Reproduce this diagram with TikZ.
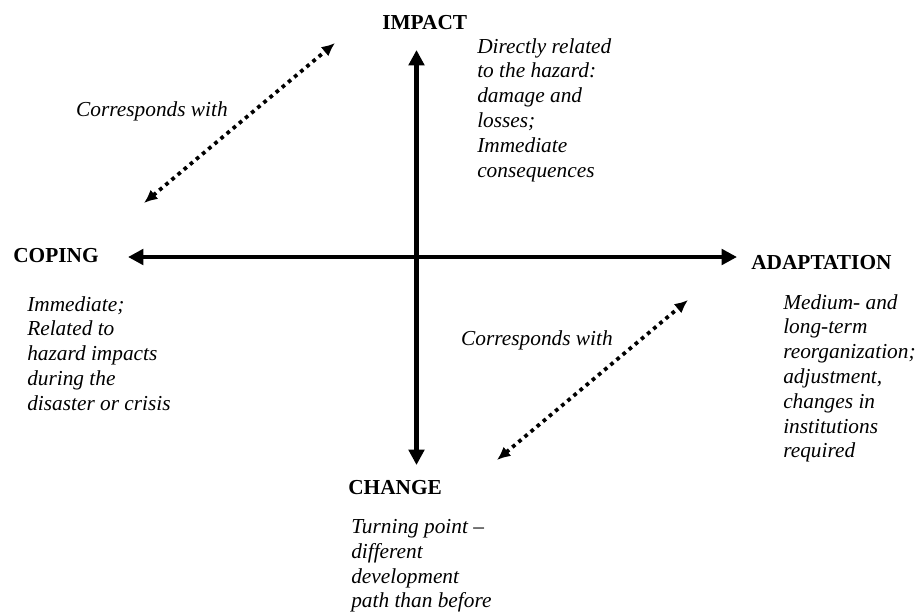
\documentclass[tikz,border=0pt]{standalone}
\usepackage{fontspec}
\setmainfont{Liberation Serif}
\usetikzlibrary{arrows.meta}
\begin{document}
\begin{tikzpicture}[x=0.75pt,y=-0.75pt,
  head/.style={font=\fontsize{16}{18.6}\selectfont\bfseries, inner sep=0pt},
  desc/.style={font=\fontsize{16}{18.6}\selectfont\itshape, inner sep=0pt, align=left, anchor=north west},
  corr/.style={font=\fontsize{16}{18.6}\selectfont\itshape, inner sep=0pt},
  axis/.style={line width=3.6pt, {Triangle[length=11.5pt,width=11.5pt]}-{Triangle[length=11.5pt,width=11.5pt]}},
  dotarrow/.style={line width=2.8pt, dash pattern=on 2.8pt off 3.2pt, {Latex[length=10pt,width=9pt]}-{Latex[length=10pt,width=9pt]}}
]
\useasboundingbox (0,0) rectangle (918,612);
% axis end points
\coordinate (top) at (416.5,50);
\coordinate (bot) at (416.5,465);
\coordinate (lft) at (128,257);
\coordinate (rgt) at (737,257);
\draw[axis] (bot) -- (top);
\draw[axis] (lft) -- (rgt);
% dotted arrows
\coordinate (d1a) at (144,203);
\coordinate (d1b) at (335,43);
\coordinate (d2a) at (497,460);
\coordinate (d2b) at (688,300);
\draw[dotarrow] (d1a) -- (d1b);
\draw[dotarrow] (d2a) -- (d2b);
% headings
\node[head, anchor=base west] (impact) at (382,29) {IMPACT};
\node[head, anchor=base west] (coping) at (13,262) {COPING};
\node[head, anchor=base west] (adapt) at (751,269) {ADAPTATION};
\node[head, anchor=base west] (change) at (348,494) {CHANGE};
% descriptions
\node[desc] (impactd) at (477,38) {Directly related\\to the hazard:\\damage and\\losses;\\Immediate\\consequences};
\node[desc] (copingd) at (27,296) {Immediate;\\Related to\\hazard impacts\\during the\\disaster or crisis};
\node[desc] (adaptd) at (783,294) {Medium- and\\long-term\\reorganization;\\adjustment,\\changes in\\institutions\\required};
\node[desc] (changed) at (351,519) {Turning point --\\different\\development\\path than before};
% corresponds
\node[corr, anchor=base east] (c1) at (228,116) {Corresponds with};
\node[corr, anchor=base east] (c2) at (613,345) {Corresponds with};
\end{tikzpicture}
\end{document}
